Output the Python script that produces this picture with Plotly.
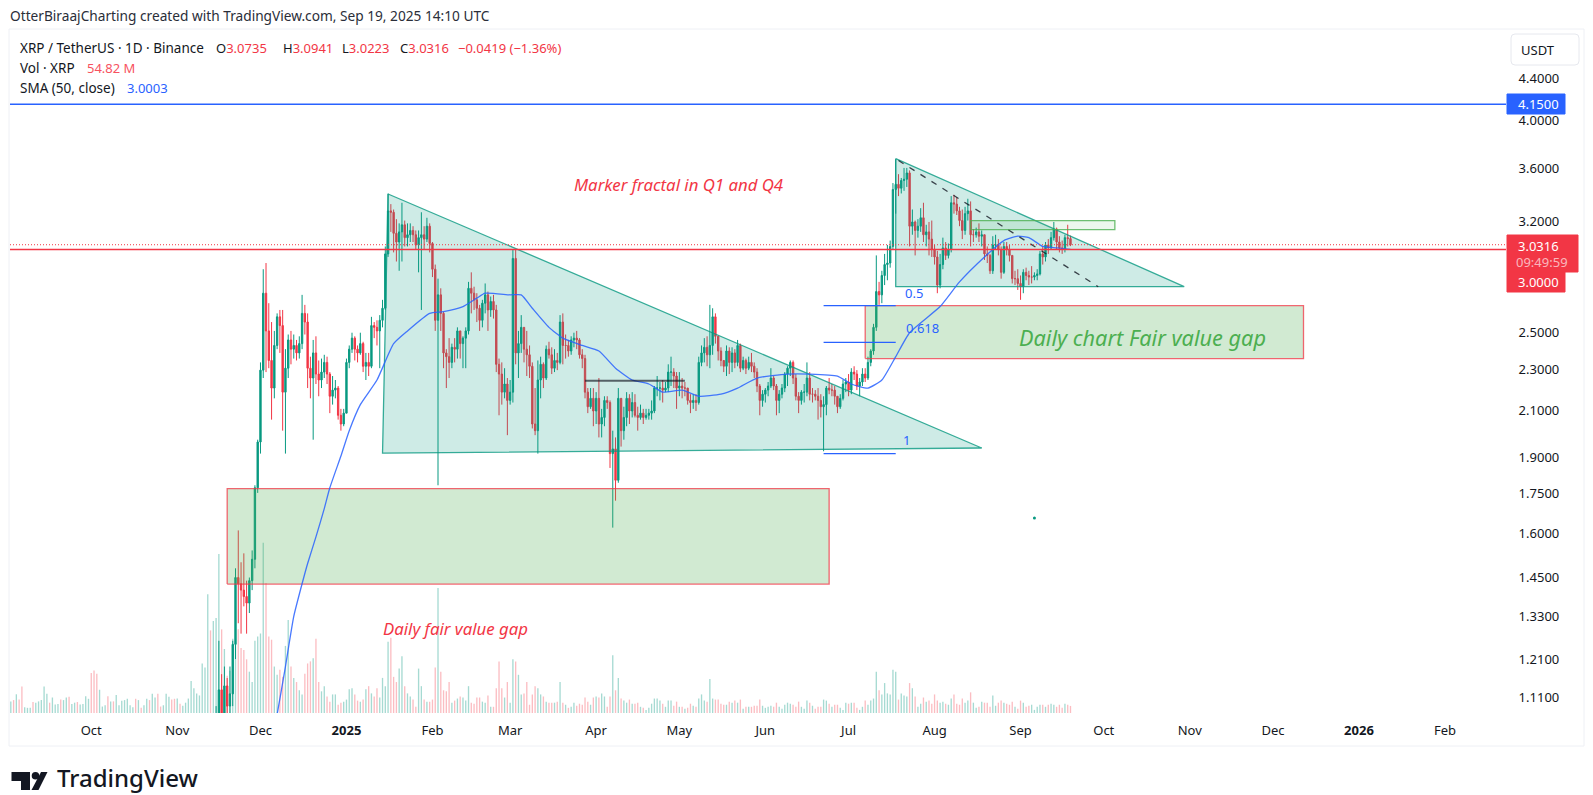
"""XRP / TetherUS daily chart with drawings, TradingView snapshot style."""

import math

import pandas as pd
import plotly.graph_objects as go

WIDTH, HEIGHT = 1593, 795
UP, DOWN = "#089981", "#F23645"
BLUE = "#2962FF"
TEAL_LINE = "rgba(8,153,129,0.8)"
TEAL_FILL = "rgba(8,153,129,0.2)"
GREEN_FILL = "rgba(76,175,80,0.26)"
RED_LINE = "rgba(242,54,69,0.75)"
FONT = "Noto Sans"

# one row per month, Sep 2 2024 to Sep 19 2025
opens = [
    0.56,0.57,0.56,0.57,0.56,0.53,0.53,0.54,0.55,0.54,0.56,0.57,0.57,0.58,0.59,0.58,0.58,0.59,0.59,0.58,0.59,0.59,0.58,0.59,0.60,0.59,0.59,0.60,0.60,
    0.61,0.58,0.53,0.52,0.53,0.53,0.54,0.53,0.54,0.53,0.53,0.54,0.54,0.54,0.54,0.55,0.55,0.54,0.55,0.54,0.54,0.54,0.52,0.52,0.53,0.52,0.51,0.52,0.52,0.53,0.52,
    0.51,0.51,0.50,0.50,0.51,0.53,0.55,0.55,0.56,0.59,0.63,0.64,0.68,0.67,0.82,1.05,1.12,1.06,1.13,1.08,1.11,1.24,1.44,1.42,1.40,1.38,1.36,1.43,1.50,1.76,
    1.95,2.29,2.72,2.50,2.34,2.20,2.42,2.58,2.53,2.18,2.30,2.45,2.40,2.42,2.38,2.43,2.60,2.55,2.30,2.25,2.38,2.27,2.24,2.28,2.33,2.27,2.16,2.19,2.20,2.07,2.03,
    2.08,2.33,2.40,2.46,2.40,2.38,2.43,2.31,2.33,2.31,2.53,2.52,2.50,2.56,2.63,2.97,3.27,3.26,3.11,3.05,3.12,3.17,3.08,3.10,3.13,3.10,3.03,3.08,3.10,3.07,3.16,
    3.04,2.87,2.56,2.71,2.60,2.38,2.36,2.33,2.41,2.40,2.50,2.43,2.46,2.50,2.75,2.72,2.68,2.63,2.56,2.66,2.71,2.62,2.67,2.62,2.32,2.27,2.18,2.22,
    2.14,2.18,2.94,2.38,2.43,2.52,2.40,2.37,2.31,2.03,2.00,2.24,2.32,2.25,2.40,2.37,2.30,2.34,2.33,2.55,2.42,2.42,2.39,2.45,2.46,2.45,2.37,2.35,2.18,2.11,2.15,
    2.09,2.15,2.03,2.06,2.14,2.13,1.90,1.92,1.79,2.15,2.00,2.06,2.15,2.09,2.13,2.07,2.06,2.08,2.06,2.07,2.08,2.09,2.20,2.20,2.20,2.19,2.20,2.28,2.28,2.26,
    2.20,2.21,2.20,2.20,2.14,2.13,2.14,2.13,2.33,2.38,2.41,2.37,2.42,2.58,2.47,2.39,2.34,2.31,2.39,2.33,2.38,2.33,2.42,2.30,2.34,2.30,2.33,2.31,2.28,2.21,2.14,
    2.17,2.19,2.21,2.25,2.21,2.14,2.17,2.20,2.27,2.30,2.33,2.25,2.16,2.14,2.18,2.18,2.25,2.17,2.17,2.16,2.14,2.11,2.12,2.20,2.19,2.19,2.16,2.11,2.15,2.22,
    2.23,2.19,2.28,2.27,2.21,2.23,2.27,2.25,2.33,2.39,2.52,2.73,2.71,2.83,2.90,2.91,3.02,3.43,3.47,3.44,3.50,3.51,3.56,3.16,3.19,3.13,3.16,3.22,3.10,3.12,3.07,
    3.00,2.95,2.77,2.90,3.01,2.96,3.00,3.33,3.32,3.27,3.20,3.13,3.25,3.27,3.10,3.10,3.12,3.09,3.10,2.97,2.96,2.86,3.03,3.03,3.00,2.85,3.02,3.00,2.96,2.81,2.81,
    2.78,2.76,2.85,2.83,2.82,2.82,2.83,2.84,2.97,2.95,3.03,3.01,3.08,3.14,3.05,3.01,3.00,3.08,3.0735,
]
highs = [
    0.58,0.58,0.58,0.58,0.57,0.54,0.55,0.56,0.56,0.57,0.58,0.58,0.59,0.60,0.60,0.59,0.60,0.60,0.60,0.60,0.60,0.60,0.60,0.61,0.61,0.60,0.61,0.61,0.64,
    0.63,0.59,0.54,0.54,0.54,0.55,0.55,0.55,0.54,0.54,0.55,0.55,0.55,0.55,0.56,0.56,0.55,0.56,0.55,0.55,0.55,0.55,0.53,0.54,0.53,0.53,0.52,0.53,0.54,0.53,0.53,
    0.53,0.52,0.52,0.52,0.54,0.57,0.57,0.58,0.60,0.65,0.70,0.70,0.74,0.84,1.08,1.25,1.16,1.18,1.15,1.18,1.25,1.47,1.60,1.49,1.52,1.43,1.44,1.53,1.77,1.96,
    2.33,2.87,2.91,2.66,2.55,2.50,2.60,2.62,2.62,2.40,2.48,2.50,2.48,2.45,2.47,2.71,2.65,2.60,2.36,2.45,2.47,2.34,2.35,2.37,2.36,2.28,2.26,2.24,2.21,2.10,2.10,
    2.35,2.42,2.49,2.47,2.42,2.49,2.44,2.38,2.38,2.58,2.55,2.56,2.59,2.68,3.02,3.40,3.32,3.28,3.21,3.18,3.33,3.20,3.18,3.18,3.16,3.13,3.13,3.26,3.16,3.22,3.18,
    3.05,2.90,2.81,2.75,2.61,2.40,2.46,2.43,2.46,2.52,2.50,2.47,2.52,2.79,2.85,2.76,2.72,2.65,2.68,2.78,2.73,2.70,2.71,2.65,2.35,2.33,2.30,2.25,
    2.24,3.00,3.00,2.50,2.59,2.52,2.50,2.42,2.33,2.20,2.34,2.36,2.33,2.42,2.44,2.41,2.40,2.38,2.59,2.60,2.48,2.45,2.47,2.49,2.50,2.46,2.40,2.37,2.20,2.20,2.20,
    2.18,2.25,2.10,2.16,2.16,2.14,2.00,1.97,2.20,2.15,2.11,2.18,2.17,2.18,2.17,2.11,2.12,2.10,2.10,2.10,2.14,2.21,2.26,2.23,2.24,2.23,2.32,2.36,2.30,2.28,
    2.28,2.25,2.23,2.20,2.17,2.17,2.17,2.36,2.42,2.46,2.47,2.65,2.63,2.60,2.47,2.41,2.33,2.42,2.41,2.41,2.40,2.45,2.43,2.36,2.35,2.36,2.38,2.33,2.30,2.22,2.19,
    2.20,2.23,2.30,2.26,2.22,2.19,2.22,2.28,2.31,2.34,2.34,2.27,2.18,2.19,2.22,2.33,2.28,2.20,2.19,2.20,2.17,2.16,2.21,2.25,2.22,2.21,2.16,2.17,2.24,2.25,
    2.27,2.30,2.31,2.29,2.25,2.30,2.30,2.36,2.40,2.54,2.96,2.79,2.86,2.97,3.03,3.06,3.48,3.67,3.55,3.52,3.60,3.60,3.58,3.28,3.20,3.21,3.29,3.33,3.17,3.19,3.20,
    3.03,2.99,2.97,3.08,3.05,3.04,3.38,3.39,3.37,3.30,3.28,3.30,3.36,3.34,3.14,3.15,3.18,3.13,3.10,3.02,2.97,3.09,3.10,3.07,3.02,3.05,3.05,3.03,2.96,2.86,2.87,
    2.83,2.87,2.88,2.86,2.89,2.85,2.87,2.99,3.02,3.05,3.07,3.12,3.19,3.15,3.09,3.06,3.10,3.17,3.0941,
]
lows = [
    0.55,0.55,0.55,0.55,0.52,0.52,0.52,0.53,0.53,0.53,0.55,0.56,0.56,0.57,0.57,0.57,0.57,0.57,0.57,0.57,0.58,0.57,0.57,0.58,0.58,0.58,0.58,0.59,0.59,
    0.57,0.51,0.51,0.51,0.52,0.53,0.52,0.52,0.52,0.52,0.52,0.53,0.53,0.53,0.54,0.53,0.53,0.54,0.53,0.53,0.53,0.51,0.51,0.51,0.50,0.50,0.51,0.51,0.51,0.51,0.50,
    0.50,0.49,0.49,0.49,0.50,0.52,0.54,0.54,0.55,0.58,0.62,0.62,0.63,0.65,0.80,1.03,1.00,1.02,1.04,1.06,1.08,1.20,1.30,1.27,1.35,1.27,1.33,1.40,1.47,1.74,
    1.90,2.25,2.28,2.30,2.05,2.15,2.40,2.38,2.00,1.90,2.25,2.32,2.35,2.34,2.35,2.40,2.48,2.20,2.15,1.96,2.22,2.16,2.20,2.25,2.22,2.08,2.12,2.15,2.05,2.00,2.02,
    2.08,2.30,2.38,2.34,2.33,2.37,2.28,2.24,2.26,2.30,2.46,2.42,2.30,2.52,2.62,2.95,3.12,2.98,2.92,2.86,2.92,3.02,3.02,3.05,3.05,3.00,2.85,2.62,3.00,3.05,2.98,
    2.82,2.50,1.77,2.50,2.30,2.20,2.25,2.30,2.33,2.35,2.35,2.30,2.30,2.48,2.60,2.62,2.55,2.50,2.52,2.60,2.50,2.58,2.57,2.28,2.07,2.12,2.15,1.98,
    2.12,2.13,2.32,2.25,2.38,2.33,2.26,2.25,2.01,1.98,1.90,2.15,2.20,2.24,2.35,2.27,2.28,2.29,2.32,2.32,2.35,2.36,2.37,2.41,2.40,2.35,2.30,2.15,2.08,2.10,2.02,
    2.03,1.97,1.97,2.02,2.10,1.84,1.61,1.71,1.78,1.93,1.96,2.02,2.03,2.06,2.06,2.00,2.05,2.03,2.05,2.05,2.05,2.08,2.16,2.14,2.13,2.18,2.18,2.21,2.20,2.10,
    2.16,2.15,2.16,2.12,2.08,2.10,2.09,2.12,2.31,2.33,2.31,2.30,2.37,2.43,2.34,2.31,2.28,2.26,2.27,2.28,2.30,2.31,2.28,2.29,2.27,2.29,2.28,2.25,2.18,2.07,2.11,
    2.13,2.16,2.20,2.19,2.07,2.08,2.15,2.18,2.21,2.26,2.22,2.14,2.08,2.12,2.13,2.16,2.14,2.13,2.14,2.05,2.06,1.91,2.07,2.17,2.16,2.12,2.08,2.10,2.14,2.18,
    2.16,2.17,2.24,2.19,2.16,2.21,2.23,2.24,2.31,2.37,2.50,2.65,2.66,2.77,2.80,2.88,3.00,3.25,3.38,3.40,3.42,3.45,3.02,3.10,2.96,3.08,3.12,3.05,3.02,2.96,2.95,
    2.90,2.72,2.75,2.87,2.93,2.94,2.98,3.25,3.24,3.16,3.07,3.10,3.20,3.02,3.05,3.08,3.05,3.02,2.93,2.91,2.84,2.84,3.00,2.96,2.81,2.84,2.96,2.92,2.78,2.77,2.74,
    2.68,2.72,2.80,2.77,2.78,2.80,2.80,2.83,2.90,2.92,2.97,3.00,3.06,3.00,2.98,2.97,2.98,3.02,3.0223,
]
closes = [
    0.57,0.56,0.57,0.56,0.53,0.53,0.54,0.55,0.54,0.56,0.57,0.57,0.58,0.59,0.58,0.58,0.59,0.59,0.58,0.59,0.59,0.58,0.59,0.60,0.59,0.59,0.60,0.60,0.61,
    0.58,0.53,0.52,0.53,0.53,0.54,0.53,0.54,0.53,0.53,0.54,0.54,0.54,0.54,0.55,0.55,0.54,0.55,0.54,0.54,0.54,0.52,0.52,0.53,0.52,0.51,0.52,0.52,0.53,0.52,0.51,
    0.51,0.50,0.50,0.51,0.53,0.55,0.55,0.56,0.59,0.63,0.64,0.68,0.67,0.82,1.05,1.12,1.06,1.13,1.08,1.11,1.24,1.44,1.42,1.40,1.38,1.36,1.43,1.50,1.76,1.95,
    2.29,2.72,2.50,2.34,2.20,2.42,2.58,2.53,2.18,2.30,2.45,2.40,2.42,2.38,2.43,2.60,2.55,2.30,2.25,2.38,2.27,2.24,2.28,2.33,2.27,2.16,2.19,2.20,2.07,2.03,2.08,
    2.33,2.40,2.46,2.40,2.38,2.43,2.31,2.33,2.31,2.53,2.52,2.50,2.56,2.63,2.97,3.27,3.26,3.11,3.05,3.12,3.17,3.08,3.10,3.13,3.10,3.03,3.08,3.10,3.07,3.16,3.04,
    2.87,2.56,2.71,2.60,2.38,2.36,2.33,2.41,2.40,2.50,2.43,2.46,2.50,2.75,2.72,2.68,2.63,2.56,2.66,2.71,2.62,2.67,2.62,2.32,2.27,2.18,2.22,2.14,
    2.18,2.94,2.38,2.43,2.52,2.40,2.37,2.31,2.03,2.00,2.24,2.32,2.25,2.40,2.37,2.30,2.34,2.33,2.55,2.42,2.42,2.39,2.45,2.46,2.45,2.37,2.35,2.18,2.11,2.15,2.09,
    2.15,2.03,2.06,2.14,2.13,1.90,1.92,1.79,2.15,2.00,2.06,2.15,2.09,2.13,2.07,2.06,2.08,2.06,2.07,2.08,2.09,2.20,2.20,2.20,2.19,2.20,2.28,2.28,2.26,2.20,
    2.21,2.20,2.20,2.14,2.13,2.14,2.13,2.33,2.38,2.41,2.37,2.42,2.58,2.47,2.39,2.34,2.31,2.39,2.33,2.38,2.33,2.42,2.30,2.34,2.30,2.33,2.31,2.28,2.21,2.14,2.17,
    2.19,2.21,2.25,2.21,2.14,2.17,2.20,2.27,2.30,2.33,2.25,2.16,2.14,2.18,2.18,2.25,2.17,2.17,2.16,2.14,2.11,2.12,2.20,2.19,2.19,2.16,2.11,2.15,2.22,2.23,
    2.19,2.28,2.27,2.21,2.23,2.27,2.25,2.33,2.39,2.52,2.73,2.71,2.83,2.90,2.91,3.02,3.43,3.47,3.44,3.50,3.51,3.56,3.16,3.19,3.13,3.16,3.22,3.10,3.12,3.07,3.00,
    2.95,2.77,2.90,3.01,2.96,3.00,3.33,3.32,3.27,3.20,3.13,3.25,3.27,3.10,3.10,3.12,3.09,3.10,2.97,2.96,2.86,3.03,3.03,3.00,2.85,3.02,3.00,2.96,2.81,2.81,2.78,
    2.76,2.85,2.83,2.82,2.82,2.83,2.84,2.97,2.95,3.03,3.01,3.08,3.14,3.05,3.01,3.00,3.08,3.0735,3.0316,
]
volumes_m = [
    90,100,145,105,205,45,40,40,85,80,90,100,205,150,80,120,65,70,105,100,120,125,70,80,85,65,70,130,110,
    310,330,305,180,50,60,130,90,90,140,60,95,100,110,60,45,110,100,40,60,110,100,150,120,150,50,60,150,125,105,110,
    112,72,56,80,112,248,192,152,136,384,352,920,640,712,736,1232,648,496,288,328,576,528,648,504,488,416,320,240,560,592,
    616,1320,1008,592,568,360,296,336,280,520,720,360,272,240,176,144,304,384,400,424,576,240,168,208,128,88,144,144,64,80,88,
    104,184,192,144,96,88,104,184,208,152,128,192,120,272,208,552,584,280,240,344,440,208,152,128,104,48,344,208,104,88,88,
    104,352,968,320,176,168,240,80,96,112,128,120,96,208,80,72,120,120,88,80,136,48,48,192,400,192,120,240,
    80,416,400,296,144,152,240,64,144,208,192,144,128,88,80,80,80,88,240,80,64,40,48,80,56,72,64,120,88,64,120,
    128,120,152,128,48,128,448,176,272,112,96,80,104,72,72,80,48,40,24,40,72,112,112,96,72,48,96,96,56,88,
    48,48,32,40,72,56,48,112,144,96,88,264,112,104,104,72,64,64,88,80,96,80,104,32,48,48,48,56,56,104,56,
    40,48,56,48,80,48,32,64,80,72,64,48,88,48,32,96,80,56,32,48,48,104,96,72,48,64,64,40,24,80,
    72,80,80,40,24,48,96,64,96,112,320,176,144,232,152,144,336,320,104,152,136,128,232,192,128,48,72,120,88,96,72,
    144,96,80,88,72,64,112,144,72,64,112,80,96,160,80,40,48,88,80,80,48,136,56,80,96,80,72,64,88,48,32,
    96,80,48,56,64,24,48,64,64,48,64,72,64,48,64,40,72,64,54.82,
]

sma_dates = [
    "2024-12-04","2024-12-07","2024-12-10","2024-12-13","2024-12-16","2024-12-18","2024-12-21","2024-12-24","2024-12-26","2024-12-30",
    "2025-01-02","2025-01-06","2025-01-12","2025-01-18","2025-01-23","2025-01-31","2025-02-05","2025-02-12","2025-02-17",
    "2025-02-20","2025-03-01","2025-03-05","2025-03-09","2025-03-15","2025-03-20","2025-03-27","2025-04-02","2025-04-08",
    "2025-04-14","2025-04-20","2025-04-25","2025-05-02","2025-05-08","2025-05-16","2025-05-22","2025-05-29","2025-06-09",
    "2025-06-17","2025-06-27","2025-07-02","2025-07-08","2025-07-13","2025-07-18","2025-07-23","2025-08-03","2025-08-10",
    "2025-08-19","2025-08-26","2025-08-31","2025-09-04","2025-09-09","2025-09-14","2025-09-19",
]
sma_values = [
    0.97,1.06,1.18,1.32,1.42,1.486,1.577,1.68,1.76,1.89,
    2.00,2.12,2.24,2.43,2.50,2.60,2.61,2.64,2.69,
    2.72,2.71,2.71,2.63,2.52,2.46,2.42,2.39,2.30,
    2.24,2.22,2.18,2.19,2.16,2.17,2.20,2.25,2.27,
    2.27,2.26,2.22,2.20,2.24,2.36,2.49,2.64,2.79,
    2.95,3.06,3.09,3.08,3.02,3.01,3.0003,
]

price_ticks = [4.4, 3.999, 3.593, 3.193, 2.493, 2.292, 2.092, 1.885, 1.737, 1.589, 1.441, 1.319, 1.199, 1.10]
price_tick_labels = ["4.4000","4.0000","3.6000","3.2000","2.5000","2.3000","2.1000","1.9000","1.7500","1.6000","1.4500","1.3300","1.2100","1.1100"]
month_ticks = ["2024-10-01","2024-11-01","2024-12-01","2025-01-01","2025-02-01","2025-03-01","2025-04-01","2025-05-01",
               "2025-06-01","2025-07-01","2025-08-01","2025-09-01","2025-10-01","2025-11-01","2025-12-01","2026-01-01","2026-02-01"]
month_labels = ["Oct","Nov","Dec","<b>2025</b>","Feb","Mar","Apr","May","Jun","Jul","Aug","Sep","Oct","Nov","Dec","<b>2026</b>","Feb"]

# drawings, as placed on the chart (date, price)
triangle_big_x = ["2025-01-16","2025-01-14","2025-08-18"]
triangle_big_y = [3.396, 1.902, 1.924]
triangle_small_x = ["2025-07-18","2025-07-18","2025-10-30"]
triangle_small_y = [3.676, 2.76, 2.76]
gap_low_x = ["2024-11-19","2025-06-24"]
gap_low_y = [1.419, 1.757]
gap_high_x = ["2025-07-07","2025-12-12"]
gap_high_y = [2.35, 2.645]
supply_x = ["2025-08-14","2025-10-05"]
supply_y = [3.136, 3.2]
fib_x = ["2025-06-22","2025-07-18"]
fib_levels = [2.645, 2.437, 1.90]
midline_x = ["2025-03-28","2025-05-03"]
midline_y = 2.236
dash_x = ["2025-07-19","2025-09-29"]
dash_y = [3.66, 2.76]
axis_start, axis_end = "2024-09-01 17:00", "2026-02-23"
resistance = 4.15
last_close = 3.0316
level_three = 3.0

PANE_LEFT, PANE_RIGHT, PANE_TOP, PANE_BOTTOM = 10, 1506, 29, 713
PRICE_LOW, PRICE_HIGH = 1.0635, 4.912
VOLUME_TOP = 5300


def px(x):
    return x / WIDTH


def py(y):
    return 1 - y / HEIGHT


def label(text, x, y, size=13, color="#131722", anchor="left", **font_args):
    return dict(
        text=text, x=px(x), y=py(y), xref="paper", yref="paper", showarrow=False,
        xanchor=anchor, yanchor="middle", font=dict(family=FONT, size=size, color=color, **font_args),
    )


def box(x0, y0, x1, y1, fill="rgba(0,0,0,0)", line="rgba(0,0,0,0)"):
    return dict(
        type="rect", xref="paper", yref="paper", x0=px(x0), x1=px(x1), y0=py(y0), y1=py(y1),
        fillcolor=fill, line=dict(color=line, width=1),
    )


def drawing(x, y, color, width=1.3, fill=None, dash="solid"):
    return go.Scatter(
        x=x, y=y, yaxis="y2", mode="lines", line=dict(color=color, width=width, dash=dash),
        fill="toself" if fill else None, fillcolor=fill, hoverinfo="skip", showlegend=False,
    )


def rect_drawing(x, y, color, fill):
    return drawing([x[0], x[1], x[1], x[0], x[0]], [y[0], y[0], y[1], y[1], y[0]], color, fill=fill)


assert len(opens) == len(highs) == len(lows) == len(closes) == len(volumes_m), (
    len(opens), len(highs), len(lows), len(closes), len(volumes_m))
dates = pd.date_range("2024-09-02", periods=len(closes), freq="D")
volume_colors = ["rgba(8,153,129,0.36)" if c >= o else "rgba(242,54,69,0.33)" for o, c in zip(opens, closes)]

fig = go.Figure()
fig.add_trace(go.Bar(
    x=dates, y=volumes_m, marker=dict(color=volume_colors, line=dict(width=0)),
    width=0.48 * 86400000, hoverinfo="skip", showlegend=False,
))
fig.add_trace(go.Candlestick(
    x=dates, open=opens, high=highs, low=lows, close=closes, yaxis="y2",
    increasing=dict(line=dict(color=UP, width=1), fillcolor=UP),
    decreasing=dict(line=dict(color=DOWN, width=1), fillcolor=DOWN),
    whiskerwidth=0, showlegend=False,
))
fig.add_trace(drawing(triangle_big_x + triangle_big_x[:1], triangle_big_y + triangle_big_y[:1], TEAL_LINE, fill=TEAL_FILL))
fig.add_trace(drawing(triangle_small_x + triangle_small_x[:1], triangle_small_y + triangle_small_y[:1], TEAL_LINE, fill=TEAL_FILL))
fig.add_trace(rect_drawing(gap_low_x, gap_low_y, RED_LINE, GREEN_FILL))
fig.add_trace(rect_drawing(gap_high_x, gap_high_y, RED_LINE, GREEN_FILL))
fig.add_trace(rect_drawing(supply_x, supply_y, "rgba(76,175,80,0.8)", "rgba(76,175,80,0.1)"))
fig.add_trace(go.Scatter(
    x=sma_dates, y=sma_values, yaxis="y2", mode="lines", line=dict(color=BLUE, width=1.3, shape="spline", smoothing=0.5),
    opacity=0.85, hoverinfo="skip", showlegend=False,
))
for level in fib_levels:
    fig.add_trace(drawing(fib_x, [level, level], BLUE))
fig.add_trace(drawing(midline_x, [midline_y, midline_y], "rgba(19,23,34,0.65)", width=2))
fig.add_trace(drawing(dash_x, dash_y, "rgba(19,23,34,0.8)", dash="6px,7px"))
fig.add_trace(drawing([axis_start, axis_end], [resistance, resistance], BLUE, width=1.5))
fig.add_trace(drawing([axis_start, axis_end], [level_three, level_three], DOWN, width=1.5))
fig.add_trace(drawing([axis_start, axis_end], [last_close, last_close], DOWN, width=1, dash="1px,2px"))
fig.add_trace(go.Scatter(
    x=["2025-09-06"], y=[1.645], yaxis="y2", mode="markers", marker=dict(color=UP, size=3),
    hoverinfo="skip", showlegend=False,
))

shapes = [
    box(9, 29, 1584, 746, line="#EEF0F5"),
    dict(type="path", xref="paper", yref="paper", line=dict(color="#E6E8EE", width=1),
         path=f"M {px(1515)} {py(34)} L {px(1575)} {py(34)} Q {px(1579)} {py(34)} {px(1579)} {py(38)} "
              f"L {px(1579)} {py(61)} Q {px(1579)} {py(65)} {px(1575)} {py(65)} L {px(1515)} {py(65)} "
              f"Q {px(1511)} {py(65)} {px(1511)} {py(61)} L {px(1511)} {py(38)} Q {px(1511)} {py(34)} {px(1515)} {py(34)} Z"),
    box(1507, 94, 1565, 114, fill=BLUE, line=BLUE),
    box(1507, 235, 1578, 272, fill=DOWN, line=DOWN),
    box(1507, 272, 1565, 292, fill=DOWN, line=DOWN),
    # TradingView mark
    dict(type="path", xref="paper", yref="paper", fillcolor="#131722", line=dict(width=0),
         path=f"M {px(11.5)} {py(772)} L {px(30)} {py(772)} L {px(30)} {py(790)} L {px(21)} {py(790)} "
              f"L {px(21)} {py(781)} L {px(11.5)} {py(781)} Z"),
    dict(type="circle", xref="paper", yref="paper", fillcolor="#131722", line=dict(width=0),
         x0=px(31.7), x1=px(39.3), y0=py(772), y1=py(779.6)),
    dict(type="path", xref="paper", yref="paper", fillcolor="#131722", line=dict(width=0),
         path=f"M {px(41)} {py(772)} L {px(47.5)} {py(772)} L {px(38.5)} {py(790)} L {px(31.5)} {py(790)} Z"),
]

annotations = [
    label("OtterBiraajCharting created with TradingView.com, Sep 19, 2025 14:10 UTC", 8, 16, size=13.7, color="#2A2E39"),
    label("XRP / TetherUS · 1D · Binance", 18, 48, size=13.5),
    label(f"O<span style='color:{DOWN}'>3.0735</span>", 214, 48),
    label(f"H<span style='color:{DOWN}'>3.0941</span>", 281, 48),
    label(f"L<span style='color:{DOWN}'>3.0223</span>", 340, 48),
    label(f"C<span style='color:{DOWN}'>3.0316</span>", 398, 48),
    label("−0.0419 (−1.36%)", 456, 48, color=DOWN),
    label("Vol · XRP", 18, 68, size=13.5),
    label("54.82 M", 85, 68, color="#F7525F"),
    label("SMA (50, close)", 18, 88, size=13.5),
    label("3.0003", 125, 88, color=BLUE),
    label("Marker fractal in Q1 and Q4", 678, 185, size=16.8, color=DOWN, anchor="center", style="italic"),
    label("Daily chart Fair value gap", 1142, 337, size=21.7, color="#4CAF50", anchor="center", style="italic"),
    label("Daily fair value gap", 455, 628, size=16.8, color=DOWN, anchor="center", style="italic"),
    label("0.5", 914, 293, size=13, color=BLUE, anchor="center"),
    label("0.618", 922, 328, size=13, color=BLUE, anchor="center"),
    label("1", 907, 440, size=13, color=BLUE, anchor="center"),
    label("USDT", 1538, 50, anchor="center"),
    label("4.1500", 1538, 104, color="white", anchor="center"),
    label("3.0316", 1538, 246, color="white", anchor="center"),
    label("09:49:59", 1542, 262, color="rgba(255,255,255,0.65)", anchor="center"),
    label("3.0000", 1538, 282, color="white", anchor="center"),
    label("TradingView", 55, 777, size=24, anchor="left", weight=500),
]

fig.update_layout(
    width=WIDTH, height=HEIGHT, margin=dict(l=0, r=0, t=0, b=0),
    paper_bgcolor="white", plot_bgcolor="white", showlegend=False,
    font=dict(family=FONT, size=13, color="#131722"), barmode="overlay",
    shapes=shapes, annotations=annotations,
    xaxis=dict(
        domain=[px(PANE_LEFT), px(PANE_RIGHT)], range=[axis_start, axis_end], type="date",
        rangeslider=dict(visible=False), showgrid=False, zeroline=False, showline=False,
        tickmode="array", tickvals=month_ticks, ticktext=month_labels,
        ticks="outside", ticklen=5, tickcolor="rgba(0,0,0,0)", tickangle=0, tickfont=dict(size=13, color="#131722"),
    ),
    yaxis=dict(domain=[py(PANE_BOTTOM), py(PANE_TOP)], range=[0, VOLUME_TOP], visible=False, fixedrange=True),
    yaxis2=dict(
        domain=[py(PANE_BOTTOM), py(PANE_TOP)], overlaying="y", side="right", type="log",
        range=[math.log10(PRICE_LOW), math.log10(PRICE_HIGH)], showgrid=False, zeroline=False, showline=False,
        tickmode="array", tickvals=price_ticks, ticktext=price_tick_labels,
        ticks="outside", ticklen=9, tickcolor="rgba(0,0,0,0)", tickfont=dict(size=13, color="#131722"),
    ),
)

fig.write_html("out.html", config={"displayModeBar": False}, post_script="document.body.style.margin='0';")
